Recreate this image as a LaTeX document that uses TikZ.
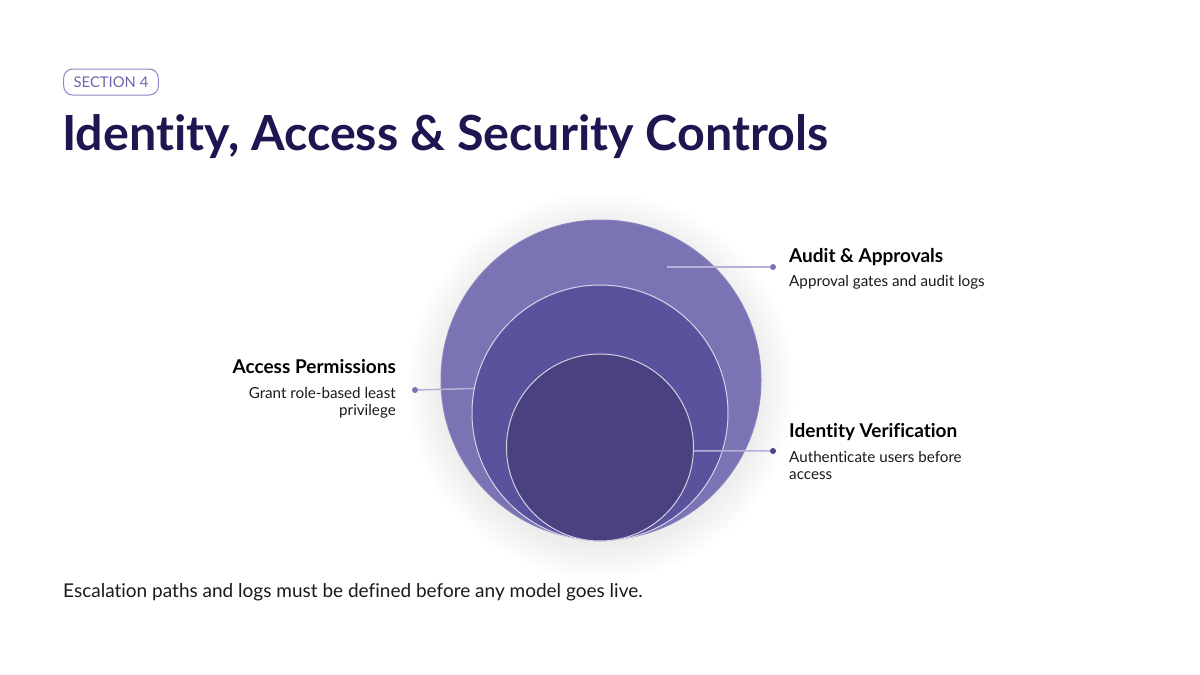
\documentclass[tikz,border=0pt]{standalone}
\usepackage{fontspec}
\setmainfont{Lato}[Ligatures=CommonOff]
\definecolor{ink}{HTML}{1E1650}
\definecolor{badgeline}{HTML}{8C86C2}
\definecolor{badgetext}{HTML}{6E66AE}
\definecolor{ringout}{HTML}{7B74B4}
\definecolor{ringmid}{HTML}{5B529E}
\definecolor{ringin}{HTML}{4A4280}
\definecolor{leadline}{HTML}{B6B0D8}
\definecolor{bodytext}{HTML}{1A1A1A}
\tikzset{
  lbl/.style={inner sep=0pt, font=\bfseries\fontsize{19}{23}\selectfont, text=black},
  desc/.style={inner sep=0pt, font=\fontsize{15.2}{17.5}\selectfont, text=bodytext},
  lead/.style={draw=leadline, line width=1.5pt},
  dotmark/.style={circle, fill=#1, inner sep=0pt, minimum size=6pt},
  ring/.style={circle, fill=#1, inner sep=0pt, draw=white!75!#1, line width=1pt}
}
\begin{document}
\begin{tikzpicture}[x=1pt,y=-1pt]
  \useasboundingbox[fill=white] (0,0) rectangle (1200,675);
  \node[draw=badgeline, rounded corners=9pt, line width=1pt, inner xsep=10pt,
    minimum height=26pt, text=badgetext, font=\fontsize{14.8}{17}\selectfont] (badge) at (111,82) {SECTION 4};
  \node[anchor=base west, inner sep=0pt, text=ink, font=\bfseries\fontsize{48.4}{58}\selectfont] (title) at (62,150) {Identity, Access \& Security Controls};
  \foreach \i in {1,...,18}
    \fill[black, opacity=0.0045] (601,386) circle ({158+2*\i});
  \node[ring=ringout, draw=ringout!90!white, minimum size=320pt] (outer) at (601,380) {};
  \node[ring=ringmid, minimum size=256pt] (mid) at (600,413) {};
  \node[ring=ringin, minimum size=187pt] (inner) at (600,447.5) {};
  \coordinate (auditin) at (667,267);
  \node[dotmark=ringout] (auditdot) at (773,267) {};
  \node[dotmark=ringout] (accessdot) at (415,390) {};
  \node[dotmark=ringin] (iddot) at (773,451) {};
  \draw[lead] (auditin) -- (auditdot);
  \draw[lead] (accessdot) -- (mid.169.4);
  \draw[lead] (inner.-2) -- (iddot);
  \node[lbl, anchor=base west] (audit) at (789,262) {Audit \& Approvals};
  \node[desc, anchor=base west] (auditdesc) at (789,286) {Approval gates and audit logs};
  \node[lbl, anchor=base east] (access) at (396,373) {Access Permissions};
  \node[desc, anchor=north east, align=right] (accessdesc) at (396,387) {Grant role-based least\\privilege};
  \node[lbl, anchor=base west] (ident) at (789,437) {Identity Verification};
  \node[desc, anchor=north west, align=left] (identdesc) at (789,451) {Authenticate users before\\access};
  \node[anchor=base west, inner sep=0pt, text=bodytext, font=\fontsize{19}{22}\selectfont] (note) at (63,597) {Escalation paths and logs must be defined before any model goes live.};
\end{tikzpicture}
\end{document}
